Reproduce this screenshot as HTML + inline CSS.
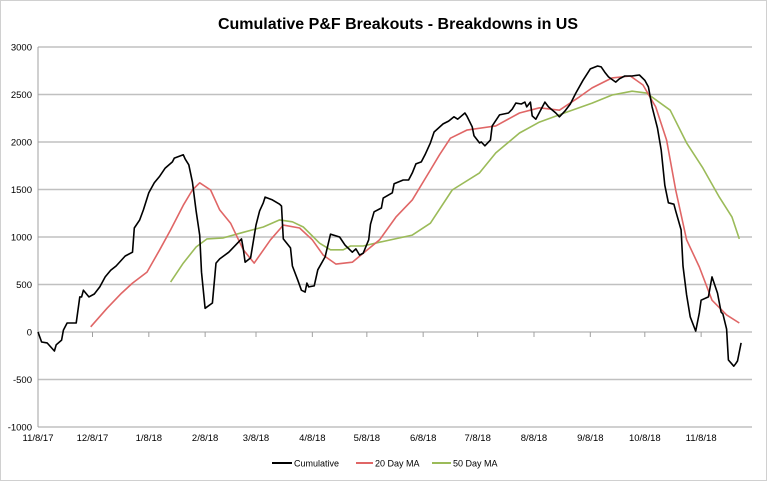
<!DOCTYPE html>
<html><head><meta charset="utf-8"><style>
html,body{margin:0;padding:0;background:#fff;}
svg{display:block;font-family:"Liberation Sans",sans-serif;}
</style></head><body>
<svg id="chart" width="767" height="481" viewBox="0 0 767 481">
<rect x="0.5" y="0.5" width="766" height="480" fill="#fff" stroke="#d0d0d0"/>
<text x="398" y="29" text-anchor="middle" font-size="16" font-weight="bold">Cumulative P&amp;F Breakouts - Breakdowns in US</text>
<g id="grid"></g>
<g id="yaxis"></g>
<g id="xaxis"></g>
<g id="series"></g>
<g>
<g><line x1="272" y1="463" x2="292" y2="463" stroke="#000" stroke-width="2"/><text x="294" y="466.5" font-size="9">Cumulative</text></g>
<g><line x1="356" y1="463" x2="373" y2="463" stroke="#e06666" stroke-width="2"/><text x="375" y="466.5" font-size="9">20 Day MA</text></g>
<g><line x1="432" y1="463" x2="451" y2="463" stroke="#9bbb59" stroke-width="2"/><text x="453" y="466.5" font-size="9">50 Day MA</text></g>
</g>
</svg>
<script>
const yTicks=[-1000,-500,0,500,1000,1500,2000,2500,3000];
const xTickDays=[0,30,61,92,120,151,181,212,242,273,304,334,365];
const xTickLabels=["11/8/17","12/8/17","1/8/18","2/8/18","3/8/18","4/8/18","5/8/18","6/8/18","7/8/18","8/8/18","9/8/18","10/8/18","11/8/18"];
const cumDays=[0,2,5,9,10,13,14,16,21,23,24,25,28,31,34,37,40,43,48,52,53,56,58,61,64,67,70,74,75,80,81,83,85,87,89,90,92,96,98,100,105,111,112,113,114,117,120,122,124,125,129,133,134,135,139,140,143,145,147,148,149,152,154,158,161,166,169,173,175,177,179,182,183,185,189,190,195,196,201,204,206,208,211,213,216,218,223,226,229,231,235,236,239,240,243,244,246,249,250,254,259,261,263,266,268,269,271,272,274,279,281,285,287,290,293,296,300,304,308,310,312,314,318,320,323,327,331,334,336,338,341,343,345,347,350,351,354,355,357,359,362,364,365,369,370,371,374,376,377,379,380,383,384,385,387];
const cumValues=[0,-105,-115,-200,-135,-85,20,95,95,370,370,440,370,400,475,580,650,695,800,840,1095,1180,1285,1465,1570,1640,1725,1790,1830,1865,1820,1760,1580,1275,1020,630,250,305,725,770,840,960,980,875,735,780,1125,1275,1360,1420,1390,1345,1325,980,885,695,545,440,420,515,475,485,655,790,1030,1000,915,840,875,810,830,970,1135,1265,1305,1410,1465,1560,1600,1600,1675,1770,1790,1865,1990,2105,2190,2220,2265,2240,2305,2275,2160,2065,1990,2000,1960,2020,2170,2285,2305,2345,2410,2400,2420,2370,2420,2275,2240,2420,2370,2305,2265,2325,2400,2515,2650,2770,2800,2790,2735,2685,2630,2665,2695,2695,2705,2650,2580,2370,2145,1915,1545,1360,1345,1275,1075,695,390,160,10,200,335,370,475,580,410,210,190,30,-295,-360,-335,-305,-115];
const ma20Days=[29,38,46,52,60,67,73,80,85,89,95,100,106,113,119,128,135,144,151,157,164,173,179,188,197,206,216,221,227,236,252,265,276,287,298,305,316,326,333,340,346,351,357,364,371,379,386];
const ma20Values=[55,250,410,515,630,865,1075,1335,1495,1570,1495,1285,1145,865,725,970,1125,1095,970,810,715,735,830,970,1210,1390,1705,1865,2040,2125,2170,2305,2360,2335,2475,2570,2675,2695,2600,2370,2020,1495,970,685,335,180,95];
const ma50Days=[73,80,87,93,102,113,124,133,140,146,155,161,168,172,179,188,206,216,228,243,252,265,276,291,305,316,327,335,348,357,366,375,382,386];
const ma50Values=[525,725,895,980,990,1050,1105,1180,1160,1105,935,865,865,905,905,945,1020,1145,1495,1675,1885,2095,2210,2315,2410,2495,2535,2515,2335,1990,1725,1420,1210,980];

const NS='http://www.w3.org/2000/svg';
const X0=38,X1=752,DAY0=0,DAY1=393,Y0=427,Y1=47,VMIN=-1000,VMAX=3000;
function xs(d){return X0+(d-DAY0)*(X1-X0)/(DAY1-DAY0);}
function ys(v){return Y0-(v-VMIN)*(Y0-Y1)/(VMAX-VMIN);}
function mk(tag,attrs,parent){const e=document.createElementNS(NS,tag);for(const k in attrs)e.setAttribute(k,attrs[k]);parent.appendChild(e);return e;}
const grid=document.getElementById('grid'),ya=document.getElementById('yaxis'),xa=document.getElementById('xaxis'),ser=document.getElementById('series');
yTicks.forEach(v=>{
  const l=mk('line',{x1:X0,x2:X1,y1:ys(v),y2:ys(v),stroke:'#c0c0c0','stroke-width':1.5},grid);
  
  
  const t=mk('text',{x:32,y:ys(v)+3.5,'text-anchor':'end','font-size':9.5},ya);
  t.textContent=v;
  
  
});
const ax=mk('line',{x1:X0,x2:X0,y1:Y1,y2:Y0,stroke:'#a0a0a0','stroke-width':1},ya);


xTickDays.forEach((d,i)=>{
  const tk=mk('line',{x1:xs(d),x2:xs(d),y1:ys(0),y2:ys(0)+5,stroke:'#a0a0a0'},xa);
  
  
  const t=mk('text',{x:xs(d),y:441,'text-anchor':'middle','font-size':9.5},xa);
  t.textContent=xTickLabels[i];
  
  
});
function line(days,vals,color,name){
  const p=mk('polyline',{points:days.map((d,i)=>xs(d).toFixed(1)+','+ys(vals[i]).toFixed(1)).join(' '),fill:'none',stroke:color,'stroke-width':1.6,'stroke-linejoin':'round'},ser);
  
  
}
line(ma50Days,ma50Values,'#9bbb59','line-50-day-ma');
line(ma20Days,ma20Values,'#e06666','line-20-day-ma');
line(cumDays,cumValues,'#000','line-cumulative');
</script>
</body></html>
